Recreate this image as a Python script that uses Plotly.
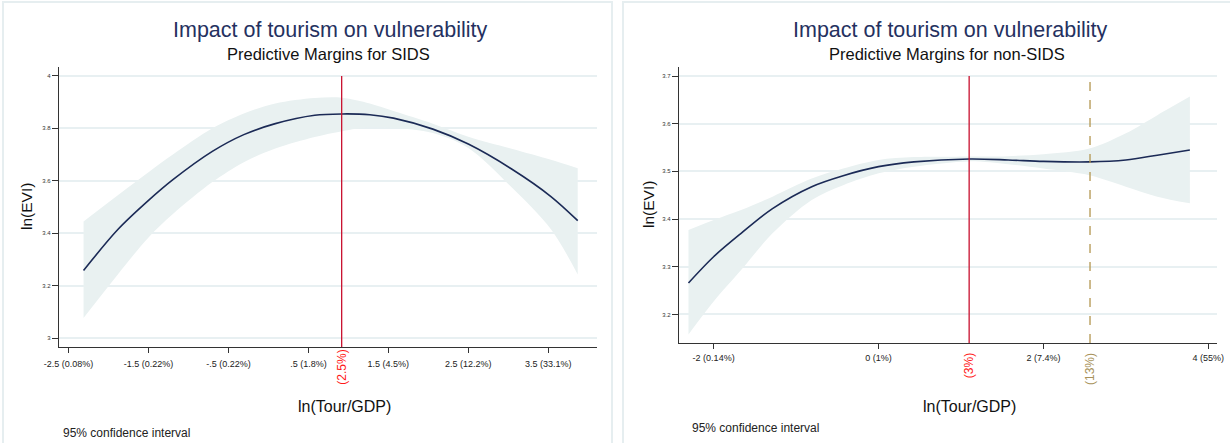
import plotly.graph_objects as go

W, H = 1230, 443

# ---------------- data: SIDS panel ----------------
sids_x = [-2.313, -1.884, -1.5, -1.195, -0.702, -0.308, 0.086, 0.579, 0.924, 1.268, 1.564, 2.057, 2.5, 3.042, 3.534, 3.869]
sids_fit = [3.258, 3.414, 3.525, 3.604, 3.712, 3.776, 3.818, 3.850, 3.855, 3.852, 3.839, 3.797, 3.740, 3.645, 3.540, 3.448]
sids_hi = [3.445, 3.545, 3.633, 3.700, 3.800, 3.857, 3.895, 3.916, 3.917, 3.895, 3.866, 3.818, 3.768, 3.722, 3.680, 3.648]
sids_lo = [3.077, 3.243, 3.384, 3.473, 3.595, 3.671, 3.723, 3.767, 3.789, 3.805, 3.802, 3.782, 3.725, 3.575, 3.415, 3.243]
sids_xticks = [-2.5, -1.5, -0.5, 0.5, 1.5, 2.5, 3.5]
sids_xlabels = ["-2.5 (0.08%)", "-1.5 (0.22%)", "-.5 (0.22%)", ".5 (1.8%)", "1.5 (4.5%)", "2.5 (12.2%)", "3.5 (33.1%)"]
sids_yticks = [3, 3.2, 3.4, 3.6, 3.8, 4]
sids_ylabels = ["3", "3.2", "3.4", "3.6", "3.8", "4"]
sids_turn = 0.916          # ln(2.5)
sids_turn_label = "(2.5%)"

# ---------------- data: non-SIDS panel ----------------
non_x = [-2.305, -2.0, -1.667, -1.286, -0.810, -0.429, 0.0, 0.429, 1.105, 1.571, 2.0, 2.557, 3.0, 3.381, 3.776]
non_fit = [3.266, 3.321, 3.370, 3.422, 3.468, 3.491, 3.510, 3.520, 3.526, 3.524, 3.521, 3.520, 3.524, 3.534, 3.545]
non_hi = [3.377, 3.398, 3.419, 3.447, 3.485, 3.506, 3.524, 3.530, 3.531, 3.532, 3.536, 3.548, 3.580, 3.618, 3.657]
non_lo = [3.158, 3.227, 3.293, 3.370, 3.440, 3.471, 3.496, 3.510, 3.521, 3.515, 3.506, 3.492, 3.468, 3.447, 3.433]
non_xticks = [-2, 0, 2, 4]
non_xlabels = ["-2 (0.14%)", "0 (1%)", "2 (7.4%)", "4 (55%)"]
non_yticks = [3.2, 3.3, 3.4, 3.5, 3.6, 3.7]
non_ylabels = ["3.2", "3.3", "3.4", "3.5", "3.6", "3.7"]
non_turn1 = 1.099         # ln(3)
non_turn1_label = "(3%)"
non_turn2 = 2.565         # ln(13)
non_turn2_label = "(13%)"

title_text = "Impact of tourism on vulnerability"
sub_left = "Predictive Margins for SIDS"
sub_right = "Predictive Margins for non-SIDS"
ytitle = "ln(EVI)"
xtitle = "ln(Tour/GDP)"
note = "95% confidence interval"

# ---------------- style ----------------
FONT = "Liberation Sans, Arial, Helvetica, sans-serif"
NAVY = "#1b2a56"
TITLE_C = "#25315f"
CI_C = "#e9f1f1"
GRID_C = "#e8f0f2"
AXIS_C = "#333333"
RED = "#c8102e"
RED_T = "#ff1a1a"
TAN = "#b3964f"
TAN_T = "#a8925a"
FRAME_C = "#e6eef0"


def px(x):
    return x / W


def py(y):
    return 1 - y / H


fig = go.Figure()


def add_panel(xs, fit, lo, hi, xa, ya):
    fig.add_trace(go.Scatter(x=xs, y=hi, mode="lines", line=dict(width=0, shape="spline", smoothing=0.9),
                             xaxis=xa, yaxis=ya, showlegend=False, hoverinfo="skip"))
    fig.add_trace(go.Scatter(x=xs, y=lo, mode="lines", line=dict(width=0, shape="spline", smoothing=0.9),
                             fill="tonexty", fillcolor=CI_C,
                             xaxis=xa, yaxis=ya, showlegend=False, hoverinfo="skip"))
    fig.add_trace(go.Scatter(x=xs, y=fit, mode="lines",
                             line=dict(color=NAVY, width=1.6, shape="spline", smoothing=0.9),
                             xaxis=xa, yaxis=ya, showlegend=False))


add_panel(sids_x, sids_fit, sids_lo, sids_hi, "x", "y")
add_panel(non_x, non_fit, non_lo, non_hi, "x2", "y2")

axis_common = dict(showline=True, linecolor=AXIS_C, linewidth=1.3, ticks="outside",
                   tickcolor=AXIS_C, zeroline=False, fixedrange=True, automargin=False)

L_dom_x = [px(59), px(597)]
L_dom_y = [py(347), py(67)]
R_dom_x = [px(679), px(1217)]
R_dom_y = [py(343), py(67)]

fig.update_layout(
    width=W, height=H, margin=dict(l=0, r=0, t=0, b=0, pad=0, autoexpand=False),
    paper_bgcolor="white", plot_bgcolor="white",
    font=dict(family=FONT, color="#222"),
    xaxis=dict(domain=L_dom_x, range=[-2.62, 4.11], tickvals=sids_xticks, ticktext=sids_xlabels,
               tickfont=dict(size=9, color="#222"), ticklen=5, ticklabelstandoff=3,
               showgrid=False, anchor="y", **axis_common),
    yaxis=dict(domain=L_dom_y, range=[2.966, 4.034], tickvals=sids_yticks, ticktext=sids_ylabels,
               tickfont=dict(size=6, color="#333"), ticklen=6, showgrid=True, gridcolor=GRID_C,
               gridwidth=1.5, anchor="x", **axis_common),
    xaxis2=dict(domain=R_dom_x, range=[-2.42, 4.105], tickvals=non_xticks, ticktext=non_xlabels,
                tickfont=dict(size=9, color="#222"), ticklen=5, ticklabelstandoff=1,
                showgrid=False, anchor="y2", **axis_common),
    yaxis2=dict(domain=R_dom_y, range=[3.14, 3.719], tickvals=non_yticks, ticktext=non_ylabels,
                tickfont=dict(size=6, color="#333"), ticklen=6, showgrid=True, gridcolor=GRID_C,
                gridwidth=1.5, anchor="x2", **axis_common),
)

shapes = [
    # panel frames
    dict(type="rect", xref="paper", yref="paper", x0=px(3), x1=px(612), y0=-0.05, y1=py(2),
         line=dict(color=FRAME_C, width=2), layer="below"),
    dict(type="rect", xref="paper", yref="paper", x0=px(623), x1=px(1232), y0=-0.05, y1=py(2),
         line=dict(color=FRAME_C, width=2), layer="below"),
    # turning point lines
    dict(type="line", xref="x", yref="y", x0=sids_turn, x1=sids_turn, y0=2.966, y1=4.0,
         line=dict(color=RED, width=1.3)),
    dict(type="line", xref="x2", yref="y2", x0=non_turn1, x1=non_turn1, y0=3.14, y1=3.7,
         line=dict(color=RED, width=1.3)),
    dict(type="line", xref="x2", yref="y2", x0=non_turn2, x1=non_turn2, y0=3.14, y1=3.7,
         line=dict(color=TAN, width=1.3, dash="dash")),
]
fig.update_layout(shapes=shapes)

ann = []


def txt(text, x, y, size, color="#111", xref="paper", angle=0, xanchor="center", yanchor="middle"):
    ann.append(dict(text=text, x=x, y=y, xref=xref, yref="paper", showarrow=False,
                    font=dict(size=size, color=color, family=FONT), textangle=angle,
                    xanchor=xanchor, yanchor=yanchor))


# titles
txt(title_text, px(330), py(30), 21.5, TITLE_C)
txt(sub_left, px(328), py(54), 16.5, "#111")
txt(title_text, px(950), py(30), 21.5, TITLE_C)
txt(sub_right, px(947), py(54), 16.5, "#111")
# axis titles
txt(ytitle, px(27), py(207), 15.5, "#111", angle=-90)
txt(ytitle, px(648), py(205), 15.5, "#111", angle=-90)
txt(xtitle, px(344), py(406), 16, "#111")
txt(xtitle, px(969), py(406), 16, "#111")
# notes
txt(note, px(61), py(433), 12, "#222", xanchor="left")
txt(note, px(690), py(428), 12, "#222", xanchor="left")
# turning point labels
txt(sids_turn_label, sids_turn, py(367), 12, RED_T, xref="x", angle=-90)
txt(non_turn1_label, non_turn1, py(366), 12, RED_T, xref="x2", angle=-90)
txt(non_turn2_label, non_turn2, py(369), 12, TAN_T, xref="x2", angle=-90)

fig.update_layout(annotations=ann)

fig.write_html("out.html", config={"displayModeBar": False},
               post_script="document.body.style.margin='0';document.body.style.overflow='hidden';")
